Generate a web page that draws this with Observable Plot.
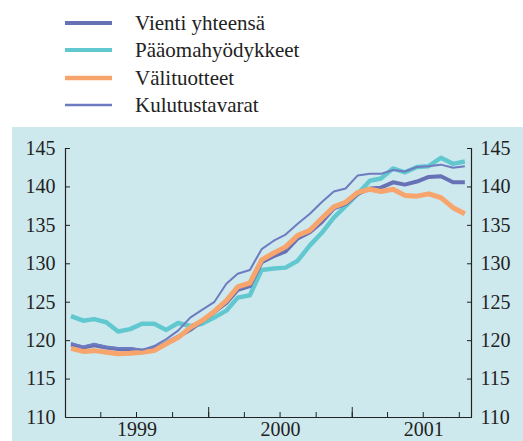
<!DOCTYPE html>
<html>
<head>
<meta charset="utf-8">
<script src="https://cdn.jsdelivr.net/npm/d3@7"></script>
<script src="https://cdn.jsdelivr.net/npm/@observablehq/plot@0.6"></script>
<style>
  html, body { margin: 0; padding: 0; background: #ffffff; }
  body { width: 523px; height: 441px; position: relative; overflow: hidden; font-family: "Times New Roman", Times, "Liberation Serif", "DejaVu Serif", "Noto Serif", serif; }
  #legend { position: absolute; left: 0; top: 0; }
  #chart { position: absolute; left: 12px; top: 127px; }
  svg text { font-family: "Times New Roman", Times, "Liberation Serif", "DejaVu Serif", "Noto Serif", serif; }
</style>
</head>
<body>
<div id="legend"></div>
<div id="chart"></div>
<script>
// Months (categories)
const months = [
  "1999-01","1999-02","1999-03","1999-04","1999-05","1999-06","1999-07","1999-08","1999-09","1999-10","1999-11","1999-12",
  "2000-01","2000-02","2000-03","2000-04","2000-05","2000-06","2000-07","2000-08","2000-09","2000-10","2000-11","2000-12",
  "2001-01","2001-02","2001-03","2001-04","2001-05","2001-06","2001-07","2001-08","2001-09","2001-10"
];
// Series values
const vienti = [119.5,119.1,119.4,119.1,118.9,118.9,118.7,118.9,119.7,120.5,121.4,122.5,123.7,124.9,126.6,127.1,130.2,131.0,131.6,133.3,134.1,135.4,137.2,137.8,139.1,139.8,139.9,140.6,140.3,140.7,141.3,141.4,140.6,140.6];
const paaoma = [123.2,122.6,122.8,122.4,121.2,121.5,122.2,122.2,121.4,122.3,121.9,122.2,123.0,123.9,125.6,125.9,129.2,129.4,129.5,130.4,132.4,134.0,136.0,137.5,139.1,140.8,141.1,142.4,141.9,142.6,142.7,143.8,143.0,143.3];
const vali = [119.0,118.6,118.7,118.5,118.3,118.35,118.5,118.7,119.6,120.4,121.7,122.6,123.8,125.2,127.0,127.5,130.5,131.4,132.2,133.7,134.35,135.9,137.4,138.0,139.3,139.7,139.4,139.7,138.9,138.8,139.1,138.6,137.3,136.5];
const kulutus = [119.7,119.2,119.6,119.2,119.0,119.0,118.8,119.3,120.2,121.3,123.0,124.0,125.0,127.4,128.7,129.2,131.9,133.0,133.8,135.2,136.5,138.0,139.4,139.8,141.5,141.7,141.7,142.2,142.0,142.6,142.7,142.9,142.5,142.7];

const seriesNames = ["Vienti yhteensä", "Pääomahyödykkeet", "Välituotteet", "Kulutustavarat"];
const seriesColors = ["#6772b6", "#62c8d0", "#f7a46d", "#6e7bc0"];
const seriesWidths = [4, 4.5, 5, 2];
const legendWidths = [4, 4, 4.5, 2.5];

// Tick labels
const yearLabels = ["1999", "2000", "2001"];
const yTicks = [110, 115, 120, 125, 130, 135, 140, 145];

const FONT = '"Times New Roman", Times, "Liberation Serif", "DejaVu Serif", "Noto Serif", serif';
const parseMonth = d3.utcParse("%Y-%m");
const midMonth = (m) => d3.utcDay.offset(parseMonth(m), 14);
const allValues = [vienti, paaoma, vali, kulutus];
const tables = allValues.map((vals, k) => months.map((m, i) => ({date: midMonth(m), value: vals[i], series: seriesNames[k]})));

const xStart = parseMonth("1999-01");
const xEnd = parseMonth("2001-11");
const quarterTicks = d3.utcMonth.every(3).range(xStart, d3.utcDay.offset(xEnd, 1));
const yearTicks = yearLabels.map(y => d3.utcParse("%Y")(y));
const midYears = yearLabels.map(y => d3.utcParse("%Y-%m-%d")(y + "-07-02"));

// draw order: cyan, vienti, orange, kulutus
const order = [1, 0, 2, 3];

const chart = Plot.plot({
  width: 511,
  height: 314,
  marginLeft: 53,
  marginRight: 52,
  marginTop: 21,
  marginBottom: 24,
  style: {background: "#cee9ee", fontFamily: FONT, fontSize: "20px", color: "#222"},
  x: {type: "utc", domain: [xStart, xEnd]},
  y: {domain: [110, 145]},
  marks: [
    Plot.ruleY([110], {stroke: "#222", strokeWidth: 1.2}),
    Plot.ruleX([xStart, xEnd], {stroke: "#222", strokeWidth: 1.2}),
    Plot.axisY(yTicks, {anchor: "left", tickSize: -5, tickPadding: 15, stroke: "#222", fill: "#222", label: null}),
    Plot.axisY(yTicks, {anchor: "right", tickSize: -5, tickPadding: 14, stroke: "#222", fill: "#222", label: null}),
    Plot.axisX(quarterTicks, {anchor: "bottom", tickSize: -5, tickFormat: () => "", stroke: "#222", label: null}),
    Plot.axisX(yearTicks, {anchor: "bottom", tickSize: -10, tickFormat: () => "", stroke: "#222", label: null}),
    Plot.axisX(midYears, {anchor: "bottom", tickSize: 0, tickPadding: 4, tickFormat: d3.utcFormat("%Y"), fill: "#222", label: null}),
    ...order.map(k => Plot.line(tables[k], {x: "date", y: "value", stroke: seriesColors[k], strokeWidth: seriesWidths[k], strokeLinejoin: "round", strokeLinecap: "butt"}))
  ]
});
document.getElementById("chart").appendChild(chart);

// Legend
const rowsY = [23, 50, 78, 105];
const leg = d3.select("#legend").append("svg").attr("width", 523).attr("height", 125);
seriesNames.forEach((name, k) => {
  leg.append("line").attr("x1", 65).attr("x2", 112).attr("y1", rowsY[k]).attr("y2", rowsY[k])
    .attr("stroke", seriesColors[k]).attr("stroke-width", legendWidths[k]);
  leg.append("text").attr("x", 135).attr("y", rowsY[k] + 7)
    .attr("font-family", FONT).attr("font-size", 21)
    .attr("fill", "#222").text(name);
});
</script>
</body>
</html>
